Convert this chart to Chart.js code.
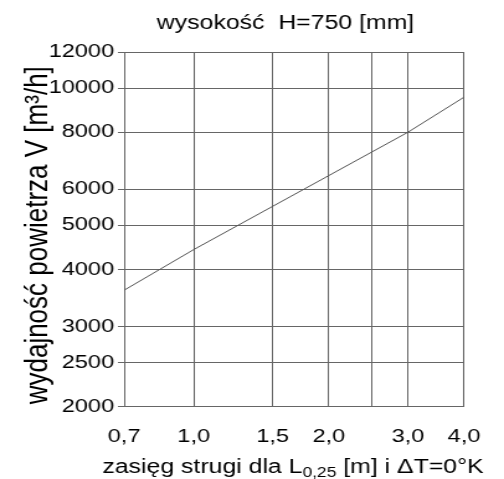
<!DOCTYPE html>
<html>
<head>
<meta charset="utf-8">
<script src="https://cdn.jsdelivr.net/npm/chart.js@4"></script>
<style>
  html, body { margin:0; padding:0; background:#fff; }
  /* oryginał jest rozciągnięty w poziomie ok. 1.24x */
  #chart { display:block; width:504px !important; height:479px !important; }
</style>
</head>
<body>
<canvas id="chart" width="406" height="479"></canvas>
<script>
// wykres: wysokość H=750 mm
const zasieg     = [0.7, 1.0, 3.0, 4.0];          // m
const wydajnosc  = [3600, 4420, 8000, 9550];      // m3/h
const xTicks     = [0.7, 1.0, 1.5, 2.0, 2.5, 3.0, 4.0];
const xLabels    = ['0,7', '1,0', '1,5', '2,0', '', '3,0', '4,0'];
const yTicks     = [2000, 2500, 3000, 4000, 5000, 6000, 8000, 10000, 12000];

const FONT = '"Liberation Sans", Arial, Helvetica, sans-serif';
const GRID = '#666';

// tytuły rysowane ręcznie (indeks dolny w L0,25)
const textPlugin = {
  id: 'texts',
  afterDraw(chart) {
    const ctx = chart.ctx;
    const area = chart.chartArea;
    ctx.save();
    ctx.fillStyle = '#000';
    ctx.textBaseline = 'alphabetic';

    // tytuł
    ctx.font = '20px ' + FONT;
    ctx.textAlign = 'center';
    ctx.fillText('wysokość  H=750 [mm]', 230, 29);

    // oś Y
    ctx.save();
    ctx.translate(37.5, (area.top + area.bottom) / 2 + 6);
    ctx.rotate(-Math.PI / 2);
    ctx.font = '26px ' + FONT;
    ctx.fillText('wydajność powietrza V [m³/h]', 0, 0);
    ctx.restore();

    // oś X z indeksem
    const parts = [
      { t: 'zasięg strugi dla L', f: '20px ', dy: 0 },
      { t: '0,25', f: '14px ', dy: 4 },
      { t: ' [m] i ΔT=0°K', f: '20px ', dy: 0 },
    ];
    let w = 0;
    parts.forEach(p => { ctx.font = p.f + FONT; w += ctx.measureText(p.t).width; });
    let x = 236 - w / 2;
    ctx.textAlign = 'left';
    parts.forEach(p => {
      ctx.font = p.f + FONT;
      ctx.fillText(p.t, x, 473 + p.dy);
      x += ctx.measureText(p.t).width;
    });
    ctx.restore();
  }
};

new Chart(document.getElementById('chart'), {
  type: 'line',
  data: {
    datasets: [{
      data: zasieg.map((x, i) => ({ x, y: wydajnosc[i] })),
      borderColor: '#555',
      borderWidth: 1,
      pointRadius: 0,
      fill: false,
      tension: 0,
    }],
  },
  options: {
    responsive: false,
    animation: false,
    events: [],
    layout: { padding: { top: 52, right: 18, left: 0, bottom: 0 } },
    plugins: { legend: { display: false }, tooltip: { enabled: false }, title: { display: false } },
    scales: {
      x: {
        type: 'logarithmic',
        min: 0.7, max: 4.0,
        afterBuildTicks: s => { s.ticks = xTicks.map(v => ({ value: v })); },
        afterFit: s => { s.height = 72.5; },
        ticks: {
          autoSkip: false, maxRotation: 0,
          color: '#000', font: { family: FONT, size: 19 }, padding: 19,
          callback: (v) => xLabels[xTicks.indexOf(v)] ?? '',
        },
        grid: { color: GRID, lineWidth: 1, drawTicks: false },
        border: { color: GRID, width: 1 },
      },
      y: {
        type: 'logarithmic',
        min: 2000, max: 12000,
        afterBuildTicks: s => { s.ticks = yTicks.map(v => ({ value: v })); },
        afterFit: s => { s.width = 100; },
        ticks: {
          autoSkip: false,
          color: '#000', font: { family: FONT, size: 19 }, padding: 3,
          callback: v => String(v),
        },
        grid: { color: GRID, lineWidth: 1, tickLength: 5 },
        border: { color: GRID, width: 1 },
      },
    },
  },
  plugins: [textPlugin],
});
</script>
</body>
</html>
